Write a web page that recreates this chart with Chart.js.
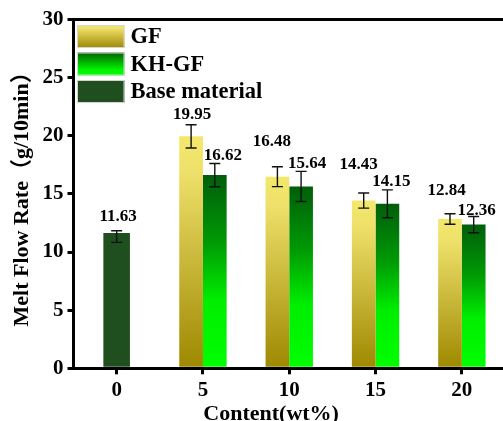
<!DOCTYPE html>
<html>
<head>
<meta charset="utf-8">
<script src="https://cdn.jsdelivr.net/npm/chart.js@4"></script>
<style>
  html, body { margin: 0; padding: 0; background: #fff; }
  #wrap { width: 503px; height: 421px; overflow: hidden; }
  canvas { display: block; }
</style>
</head>
<body>
<div id="wrap"><canvas id="mfr" width="510" height="421"></canvas></div>
<script>
// Glass fibre content (wt%) on the category axis
const contents = ['0', '5', '10', '15', '20'];
const yTickValues = [0, 5, 10, 15, 20, 25, 30];

// Melt flow rate, g/10min
const gfValues   = [null, 19.95, 16.48, 14.43, 12.84];
const gfErr      = [null, 1.0, 0.85, 0.65, 0.45];
const khgfValues = [null, 16.62, 15.64, 14.15, 12.36];
const khgfErr    = [null, 1.0, 1.3, 1.2, 0.7];
const baseValues = [11.63, null, null, null, null];
const baseErrUp   = [0.2, null, null, null, null];
const baseErrDown = [0.8, null, null, null, null];

// Small pixel shifts that keep the value labels clear of each other
const gfLabelNudge   = [null, [1, -1], [-5.5, -16], [-5, -19], [-3.5, -14]];
const khgfLabelNudge = [null, [8, 1], [6, 1], [4, 1], [3, 3]];
const baseLabelNudge = [[1.5, -5], null, null, null, null];

const SERIF = "'Times New Roman', 'Liberation Serif', 'Noto Sans CJK SC', serif";

const GF_STOPS   = [[0, '#F3E86C'], [0.15, '#EEE06A'], [1, '#9E8800']];
const KHGF_STOPS = [[0, '#005E0A'], [0.35, '#009A05'], [0.65, '#00EE00'], [1, '#00FF00']];
const BASE_COLOR = '#1F4F1F';

function barGradient(stops) {
  return (ctx) => {
    const chart = ctx.chart;
    const y = chart.scales && chart.scales.y;
    if (!y || ctx.type !== 'data' || ctx.raw == null) return stops[0][1];
    const top = y.getPixelForValue(ctx.raw);
    const bottom = y.getPixelForValue(0);
    if (!isFinite(top) || !isFinite(bottom)) return stops[0][1];
    const g = chart.ctx.createLinearGradient(0, top, 0, bottom);
    stops.forEach(([o, c]) => g.addColorStop(o, c));
    return g;
  };
}

// Error bars and value labels on top of each bar
const errorBarsAndLabels = {
  id: 'errorBarsAndLabels',
  afterDatasetsDraw(chart) {
    const { ctx } = chart;
    const y = chart.scales.y;
    chart.data.datasets.forEach((ds, di) => {
      const meta = chart.getDatasetMeta(di);
      meta.data.forEach((bar, i) => {
        const v = ds.data[i];
        if (v == null) return;
        const up = ds.errUp[i], down = ds.errDown[i];
        const yTop = y.getPixelForValue(v + up);
        const yBot = y.getPixelForValue(v - down);
        const cap = 5.5;
        ctx.save();
        ctx.strokeStyle = '#111';
        ctx.lineWidth = 1.4;
        ctx.beginPath();
        ctx.moveTo(bar.x, yTop); ctx.lineTo(bar.x, yBot);
        ctx.moveTo(bar.x - cap, yTop); ctx.lineTo(bar.x + cap, yTop);
        ctx.moveTo(bar.x - cap, yBot); ctx.lineTo(bar.x + cap, yBot);
        ctx.stroke();
        const n = ds.labelNudge[i] || [0, 0];
        ctx.fillStyle = '#000';
        ctx.font = 'bold 17px ' + SERIF;
        ctx.textAlign = 'center';
        ctx.textBaseline = 'middle';
        ctx.fillText(v.toFixed(2), bar.x + n[0], yTop - 9 + n[1]);
        ctx.restore();
      });
    });
  }
};

// Frame top line, axis titles and the legend inside the plot
const frameAndText = {
  id: 'frameAndText',
  afterDraw(chart) {
    const { ctx, chartArea } = chart;
    ctx.save();
    ctx.strokeStyle = '#000';
    ctx.lineWidth = 3;
    ctx.beginPath();
    ctx.moveTo(chartArea.left, chartArea.top);
    ctx.lineTo(chart.width, chartArea.top);
    ctx.stroke();

    ctx.fillStyle = '#000';
    ctx.font = 'bold 22px ' + SERIF;
    ctx.textAlign = 'center';
    ctx.textBaseline = 'alphabetic';
    ctx.fillText('Content(wt%)', chartArea.left + 0.458 * (chartArea.right - chartArea.left), 419.5);

    ctx.save();
    ctx.translate(28, (chartArea.top + chartArea.bottom) / 2);
    ctx.rotate(-Math.PI / 2);
    ctx.fillText('Melt Flow Rate（g/10min）', 0, 0);
    ctx.restore();

    const items = [
      { text: 'GF', stops: GF_STOPS },
      { text: 'KH-GF', stops: [[0, '#006400'], [0.45, '#00B800'], [0.75, '#00F500'], [1, '#00FF00']] },
      { text: 'Base material', color: BASE_COLOR }
    ];
    const bx = chartArea.left + 3.5, bw = 47.5, bh = 23;
    items.forEach((it, k) => {
      const by = chartArea.top + 5.5 + k * 27.5;
      let fill;
      if (it.stops) {
        fill = ctx.createLinearGradient(0, by, 0, by + bh);
        it.stops.forEach(([o, c]) => fill.addColorStop(o, c));
      } else {
        fill = it.color;
      }
      ctx.fillStyle = fill;
      ctx.fillRect(bx, by, bw, bh);
      ctx.strokeStyle = '#d4d4d4';
      ctx.lineWidth = 1;
      ctx.strokeRect(bx + 0.5, by + 0.5, bw - 1, bh - 1);
      ctx.fillStyle = '#000';
      ctx.font = 'bold 22.5px ' + SERIF;
      ctx.textAlign = 'left';
      ctx.textBaseline = 'middle';
      ctx.fillText(it.text, bx + bw + 6, by + bh / 2 + 1);
    });
    ctx.restore();
  }
};

new Chart(document.getElementById('mfr'), {
  type: 'bar',
  data: {
    labels: contents,
    datasets: [
      {
        label: 'GF', data: gfValues, errUp: gfErr, errDown: gfErr, labelNudge: gfLabelNudge,
        backgroundColor: barGradient(GF_STOPS),
        categoryPercentage: 0.549, barPercentage: 1
      },
      {
        label: 'KH-GF', data: khgfValues, errUp: khgfErr, errDown: khgfErr, labelNudge: khgfLabelNudge,
        backgroundColor: barGradient(KHGF_STOPS),
        categoryPercentage: 0.549, barPercentage: 1
      },
      {
        // Stands alone at 0 wt%, so it is centred on its tick rather than grouped
        label: 'Base material', data: baseValues, errUp: baseErrUp, errDown: baseErrDown, labelNudge: baseLabelNudge,
        backgroundColor: BASE_COLOR, grouped: false,
        categoryPercentage: 0.308, barPercentage: 1
      }
    ]
  },
  options: {
    responsive: false,
    animation: false,
    devicePixelRatio: 1,
    layout: { padding: { top: 19.5, right: 5, left: 0, bottom: 0 } },
    plugins: { legend: { display: false }, tooltip: { enabled: false } },
    scales: {
      x: {
        type: 'category',
        offset: true,
        grid: { offset: false, drawOnChartArea: false, tickLength: 6, lineWidth: 3, color: '#000' },
        border: { display: true, width: 3, color: '#000' },
        ticks: { color: '#000', padding: 4, font: { family: SERIF, size: 21, weight: 'bold' } },
        afterFit: (s) => { s.height = 52.7; }
      },
      y: {
        min: 0,
        max: 30,
        afterBuildTicks: (s) => { s.ticks = yTickValues.map(v => ({ value: v })); },
        grid: { drawOnChartArea: false, tickLength: 6, lineWidth: 3, color: '#000' },
        border: { display: true, width: 3, color: '#000' },
        ticks: { color: '#000', padding: 4, font: { family: SERIF, size: 21, weight: 'bold' } },
        afterFit: (s) => { s.width = 73.5; }
      }
    }
  },
  plugins: [errorBarsAndLabels, frameAndText]
});
</script>
</body>
</html>
